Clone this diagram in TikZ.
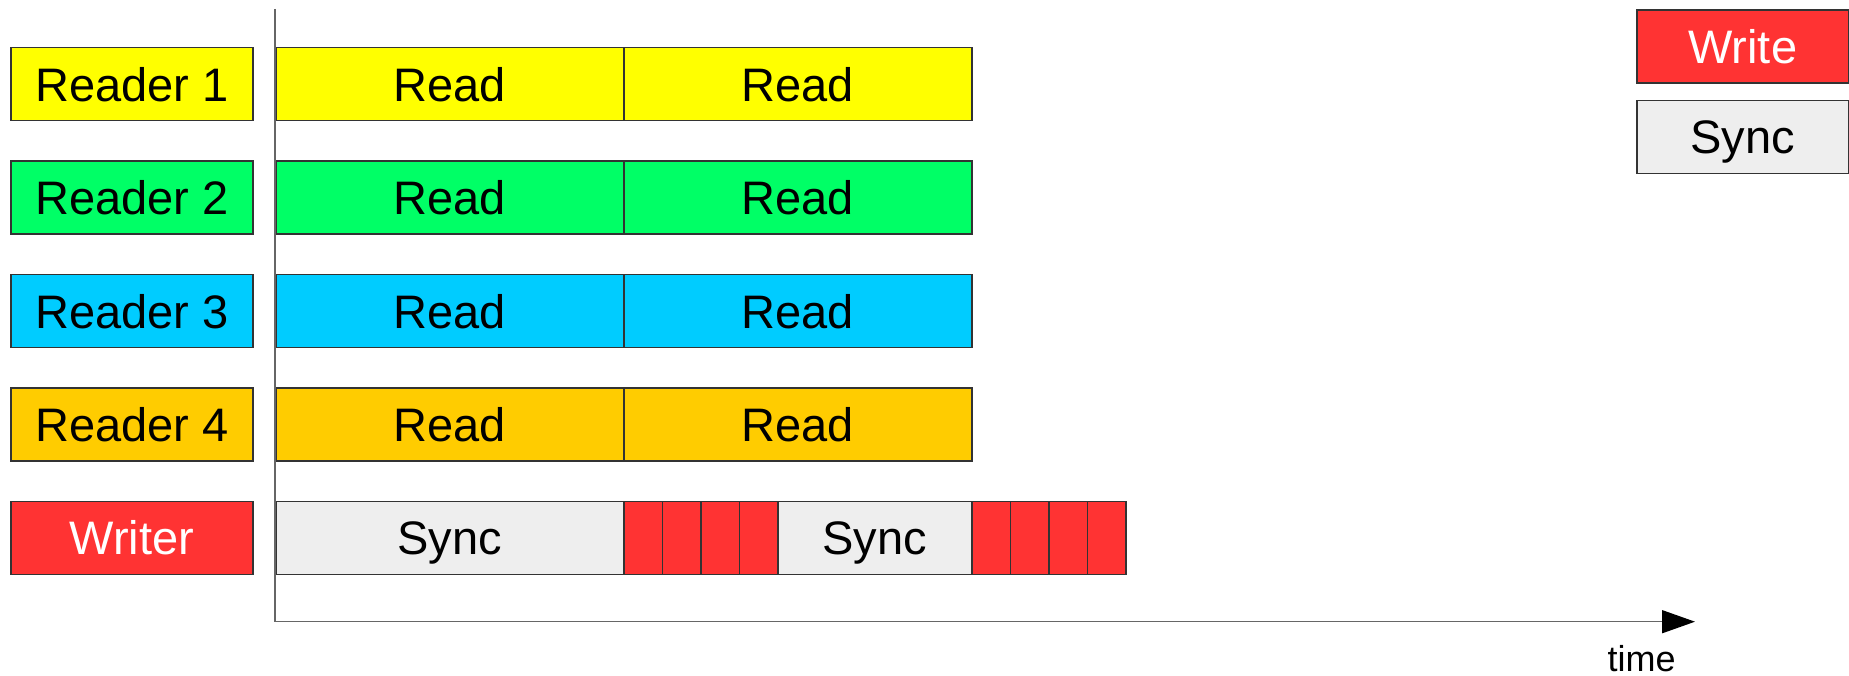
\documentclass[tikz,border=0pt]{standalone}
\usepackage{fontspec}
\setmainfont{Liberation Sans}
\usetikzlibrary{arrows.meta}
\definecolor{cyell}{HTML}{FFFF00}
\definecolor{cgreen}{HTML}{00FF66}
\definecolor{cblue}{HTML}{00CCFF}
\definecolor{cgold}{HTML}{FFCC00}
\definecolor{cred}{HTML}{FF3333}
\definecolor{cgray}{HTML}{EEEEEE}
\definecolor{edge}{HTML}{333333}
\definecolor{axisc}{HTML}{666666}
\tikzset{
  cell/.style={draw=edge, line width=1.5pt, rectangle, inner sep=0pt,
    anchor=north west, minimum height=73pt,
    text height=34pt, text depth=0pt,
    font=\fontsize{47}{56}\selectfont},
  label/.style={cell, minimum width=242pt},
  half/.style={cell, minimum width=348pt},
  tick/.style={cell, minimum width=38.5pt, fill=cred},
}
\begin{document}
\begin{tikzpicture}[x=1pt,y=-1pt]
\useasboundingbox (0,0) rectangle (1849,676);

% row labels
\node[label, fill=cyell]  (l1) at (10,47)    {Reader 1};
\node[label, fill=cgreen] (l2) at (10,160.4) {Reader 2};
\node[label, fill=cblue]  (l3) at (10,273.8) {Reader 3};
\node[label, fill=cgold]  (l4) at (10,387.1) {Reader 4};
\node[label, fill=cred, text=white] (lw) at (10,500.7) {Writer};

% reader activity
\foreach \i/\y/\c in {1/47/cyell, 2/160.4/cgreen, 3/273.8/cblue, 4/387.1/cgold}{
  \node[half, fill=\c] (a\i) at (275,\y) {Read};
  \node[half, fill=\c] (b\i) at (623,\y) {Read};
}

% writer activity
\node[half, fill=cgray] (s1) at (275,500.7) {Sync};
\foreach \k in {0,...,3}{
  \node[tick] (w\k) at ({623+38.5*\k},500.7) {};
}
\node[cell, minimum width=194pt, fill=cgray] (s2) at (777,500.7) {Sync};
\foreach \k in {0,...,3}{
  \node[tick] (v\k) at ({971+38.5*\k},500.7) {};
}

% legend
\node[cell, minimum width=212pt, fill=cred, text=white] (lgw) at (1636,9.3) {Write};
\node[cell, minimum width=212pt, fill=cgray] (lgs) at (1636,99.7) {Sync};

% time axis
\coordinate (top) at (275,9);
\coordinate (orig) at (275,621.7);
\coordinate (tip) at (1695,621.7);
\draw[axisc, line width=1.5pt, -{Triangle[length=33pt,width=23pt,color=black]}]
  (top) -- (orig) -- (tip);
\node[anchor=base, inner sep=0pt, font=\fontsize{36}{43}\selectfont] (tl) at (1641.5,671.7) {time};
\end{tikzpicture}
\end{document}
